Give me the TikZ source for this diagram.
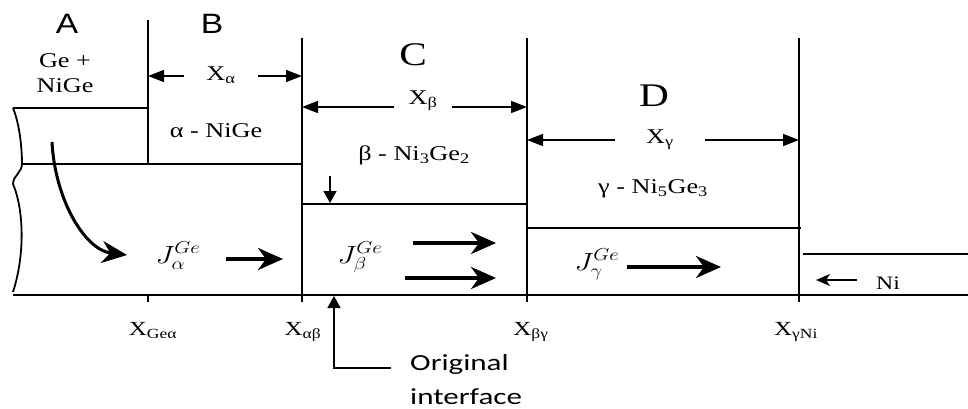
\documentclass[tikz,border=0pt]{standalone}
\usepackage{graphicx}
\usepackage{fontspec}
\setmainfont{Liberation Serif}[FakeStretch=1.25]
\newfontfamily\tagfont{Liberation Sans}[FakeStretch=1.2]
\newfontfamily\notefont{Carlito}[FakeStretch=1.35]
\usetikzlibrary{arrows.meta,positioning}

\begin{document}
\begin{tikzpicture}[x=1pt, y=-1pt,
  wall/.style={line width=2pt},
  film/.style={line width=1.8pt},
  axisline/.style={line width=2.3pt},
  dimarr/.style={-{Triangle[length=16pt,width=12pt]}, line width=1.6pt},
  flux/.style={-{Stealth[length=25pt,width=22pt,inset=8pt]}, line width=3.6pt},
  ptr/.style={-{Triangle[length=12pt,width=13pt]}, line width=1.6pt},
  niarr/.style={-{Stealth[length=14pt,width=12pt,inset=4pt]}, line width=1.5pt},
  txt/.style={font=\fontsize{21}{25}\selectfont, anchor=base, inner sep=0pt},
  tag/.style={font=\tagfont\fontsize{28}{30}\selectfont, anchor=base, inner sep=0pt},
  big/.style={font=\fontsize{33}{36}\selectfont, anchor=base, inner sep=0pt},
  poslbl/.style={font=\fontsize{20}{24}\selectfont, anchor=base, inner sep=0pt},
  flx/.style={font=\fontsize{24}{28}\selectfont, anchor=base, inner sep=0pt},
  notelbl/.style={font=\notefont\fontsize{23}{34}\selectfont, align=left, inner sep=0pt}
]
\useasboundingbox (0,0) rectangle (968,408);

% layer boundaries
\draw[wall] (148,20) -- (148,164);
\draw[wall] (148,295) -- (148,302);
\draw[wall] (302,38) -- (302,302);
\draw[wall] (527,38) -- (527,302);
\draw[wall] (799,38) -- (799,302);
\draw[film] (13,108) -- (148,108);
\draw[film] (22,164) -- (302,164);
\draw[film] (302,204) -- (527,204);
\draw[film] (527,228) -- (801,228);
\draw[film] (803,254) -- (968,254);
\draw[axisline] (13,295) -- (968,295);
\draw[film] (13,108) .. controls (20,125) and (22,150) .. (22,164)
  .. controls (22,172) and (13,176) .. (13,184)
  .. controls (24,210) and (25,255) .. (13,292);

% region names
\node[tag] (A) at (67,33) {A};
\node[tag] (B) at (212,33) {B};
\node[big] (C) at (413,65) {C};
\node[big] (D) at (654,106) {D};
\node[txt, align=center, anchor=north] (mixA) at (65,53) {Ge +\\NiGe};
\node[txt] (phA) at (216,137) {α - NiGe};
\node[txt] (phB) at (414,160) {β - Ni\textsubscript{3}Ge\textsubscript{2}};
\node[txt] (phC) at (653,193) {γ - Ni\textsubscript{5}Ge\textsubscript{3}};

% thicknesses
\coordinate (wA) at (148,0);
\coordinate (wB) at (302,0);
\coordinate (wC) at (527,0);
\coordinate (wD) at (799,0);
\node[txt, inner xsep=22pt] (xa) at (221,80) {X\textsubscript{α}};
\node[txt, inner xsep=14pt] (xb) at (423,104) {X\textsubscript{β}};
\node[txt, inner xsep=31pt] (xc) at (660,143) {X\textsubscript{γ}};
\draw[dimarr] ([yshift=4pt]xa.base west) -- ([yshift=4pt]xa.base west -| wA);
\draw[dimarr] ([yshift=4pt]xa.base east) -- ([yshift=4pt]xa.base east -| wB);
\draw[dimarr] ([yshift=-3pt]xb.base west) -- ([yshift=-3pt]xb.base west -| wB);
\draw[dimarr] ([yshift=-3pt]xb.base east) -- ([yshift=-3pt]xb.base east -| wC);
\draw[dimarr] ([yshift=3pt]xc.base west) -- ([yshift=3pt]xc.base west -| wC);
\draw[dimarr] ([yshift=3pt]xc.base east) -- ([yshift=3pt]xc.base east -| wD);

% fluxes
\node[flx] (ja) at (178,263) {\scalebox{1.2}[1]{$J_{\alpha}^{Ge}$}};
\node[flx] (jb) at (360,263) {\scalebox{1.2}[1]{$J_{\beta}^{Ge}$}};
\node[flx] (jc) at (597,270) {\scalebox{1.2}[1]{$J_{\gamma}^{Ge}$}};
\coordinate (cs) at (52,142);
\coordinate (ce) at (127,255);
\draw[flux, line width=3pt] (cs) .. controls (55,200) and (85,250) .. (ce);
\coordinate (fa0) at (226,259);
\coordinate (fa1) at (283,259);
\coordinate (fb0) at (413,243);
\coordinate (fb1) at (496,243);
\coordinate (fb2) at (405,278);
\coordinate (fb3) at (496,278);
\coordinate (fc0) at (627,267);
\coordinate (fc1) at (721,267);
\draw[flux] (fa0) -- (fa1);
\draw[flux] (fb0) -- (fb1);
\draw[flux] (fb2) -- (fb3);
\draw[flux] (fc0) -- (fc1);

% Ni side
\node[txt, font=\fontsize{19}{22}\selectfont] (ni) at (888,289) {Ni};
\coordinate (na1) at (816,280);
\draw[niarr] ([xshift=-19pt]ni.west |- na1) -- (na1);
\coordinate (dn0) at (330,176);
\coordinate (dn1) at (330,203);
\draw[ptr, line width=1.5pt] (dn0) -- (dn1);

% positions
\node[poslbl] (pGe) at (153,335) {X\textsubscript{Geα}};
\node[poslbl] (pab) at (303,335) {X\textsubscript{αβ}};
\node[poslbl] (pbg) at (531,335) {X\textsubscript{βγ}};
\node[poslbl] (pgn) at (796,335) {X\textsubscript{γNi}};

% original interface
\node[notelbl, anchor=north west] (orig) at (410,354) {Original\\interface};
\coordinate (knee0) at (391,368);
\coordinate (oi) at (334,296);
\draw[ptr] (knee0) -| (oi);
\end{tikzpicture}
\end{document}
